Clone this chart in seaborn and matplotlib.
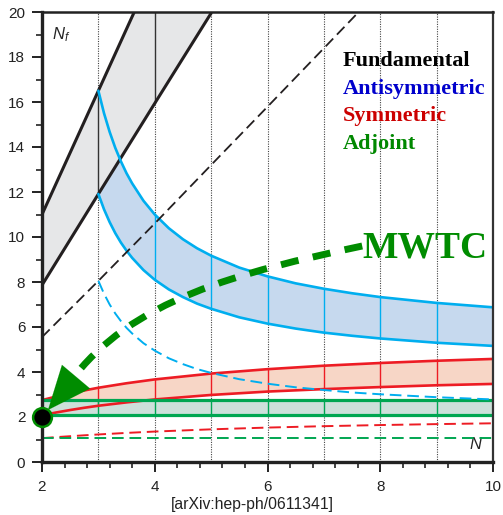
import numpy as np
import matplotlib
matplotlib.use("Agg")
import matplotlib.pyplot as plt
from matplotlib.path import Path
from matplotlib.patches import PathPatch
import seaborn as sns

# ---- data (N = number of colours, Nf = flavours) ----
fund_N = [2, 3, 4, 5]
fund_upper = [11.0, 16.5, 22.0, 27.5]
fund_lower = [7.86, 11.91, 15.94, 19.95]
fund_dash_N = [2, 3, 4, 5, 6, 7, 8]
fund_dash = [5.55, 8.05, 10.6, 13.2, 15.79, 18.39, 21.0]

anti_N = [3, 3.1, 3.2, 3.3, 3.4, 3.5, 3.6, 3.8, 4, 4.25, 4.5, 4.75, 5,
          5.5, 6, 6.5, 7, 7.5, 8, 9, 10]
anti_upper = [16.5, 15.5, 14.67, 13.96, 13.36, 12.83, 12.38, 11.61, 11.0, 10.39,
              9.9, 9.5, 9.17, 8.64, 8.25, 7.94, 7.7, 7.5, 7.33, 7.07, 6.875]
anti_lower = [11.91, 11.23, 10.66, 10.17, 9.75, 9.39, 9.07, 8.53, 8.1, 7.67,
              7.33, 7.04, 6.81, 6.43, 6.15, 5.93, 5.75, 5.61, 5.49, 5.3, 5.16]
anti_dash = [8.05, 7.48, 7.0, 6.6, 6.26, 5.96, 5.71, 5.28, 4.95, 4.61,
             4.35, 4.13, 3.96, 3.68, 3.48, 3.32, 3.2, 3.09, 3.01, 2.88, 2.78]

sym_N = [2, 2.25, 2.5, 2.75, 3, 3.5, 4, 5, 6, 7, 8, 9, 10]
sym_upper = [2.75, 2.91, 3.06, 3.18, 3.3, 3.5, 3.67, 3.93, 4.125, 4.28, 4.4, 4.5, 4.58]
sym_lower = [2.075, 2.2, 2.31, 2.41, 2.5, 2.65, 2.78, 2.98, 3.13, 3.24, 3.33, 3.41, 3.47]
sym_dash = [1.06, 1.105, 1.146, 1.186, 1.224, 1.293, 1.353, 1.452, 1.53, 1.592,
            1.642, 1.684, 1.72]

adj_N = [2, 3, 4, 5, 6, 7, 8, 9, 10]
adj_upper = [2.75] * 9
adj_lower = [2.075] * 9
adj_dash = [1.0625] * 9

legend_labels = ["Fundamental", "Antisymmetric", "Symmetric", "Adjoint"]
legend_colors = ["#000000", "#0000cc", "#cc0000", "#008800"]
grid_N = [3, 4, 5, 6, 7, 8, 9]
mwtc_point = (2, 2)

BLACK = "#231f20"
CYAN = "#00aeef"
RED = "#ed1c24"
GREEN = "#00a651"
ARROW_GREEN = "#008c00"

sns.set_theme(style="ticks")
plt.rcParams["font.family"] = ["Liberation Sans", "DejaVu Sans"]
plt.rcParams["mathtext.fontset"] = "custom"
plt.rcParams["mathtext.it"] = "Liberation Sans:italic"
plt.rcParams["mathtext.rm"] = "Liberation Sans"

fig = plt.figure(figsize=(5.03, 5.15), dpi=100)
ax = fig.add_axes([42 / 503, 53 / 515, 451 / 503, 450 / 515])
ax.set_facecolor("white")

# dotted guide lines
ax.vlines(grid_N, 0, 20, colors="#444444", linestyles=(0, (1, 1.2)), lw=0.8, zorder=1)

# bands
ax.fill_between(anti_N, anti_lower, anti_upper, color="#c6d9ee", lw=0, zorder=2)
ax.fill_between(fund_N, fund_lower, fund_upper, color="#e6e7e8", lw=0, zorder=2.5)
ax.fill_between(sym_N, sym_lower, sym_upper, color="#f7d6c6", lw=0, zorder=2)
ax.fill_between(adj_N, adj_lower, adj_upper, color="#cde0da", lw=0, zorder=2.5)


def inner_lines(xs, lo, hi, keep, color, z):
    for x, a, b in zip(xs, lo, hi):
        if x in keep:
            ax.vlines(x, a, b, colors=color, lw=1.0, zorder=z)


inner_lines(fund_N, fund_lower, fund_upper, [3, 4], "#333333", 3)
inner_lines(anti_N, anti_lower, anti_upper, [4, 5, 6, 7, 8, 9], CYAN, 3)
inner_lines(sym_N, sym_lower, sym_upper, [3, 4, 5, 6, 7, 8, 9], RED, 3)
inner_lines(adj_N, adj_lower, adj_upper, [3, 4, 5, 6, 7, 8, 9], GREEN, 3)

# solid boundaries
for xs, ys, c, w in [
    (fund_N, fund_upper, BLACK, 2.2), (fund_N, fund_lower, BLACK, 2.2),
    (anti_N, anti_upper, CYAN, 1.9), (anti_N, anti_lower, CYAN, 1.9),
    (sym_N, sym_upper, RED, 1.9), (sym_N, sym_lower, RED, 1.9),
    (adj_N, adj_upper, GREEN, 2.3), (adj_N, adj_lower, GREEN, 2.3),
]:
    sns.lineplot(x=xs, y=ys, color=c, lw=w, ax=ax, zorder=4)

# dashed lower limits
ax.plot(fund_dash_N, fund_dash, color=BLACK, lw=1.3, ls=(0, (6, 3)), zorder=4)
ax.plot(anti_N, anti_dash, color=CYAN, lw=1.4, ls=(0, (6, 3)), zorder=4)
ax.plot(sym_N, sym_dash, color=RED, lw=1.4, ls=(0, (6, 3)), zorder=4)
ax.plot(adj_N, adj_dash, color=GREEN, lw=1.4, ls=(0, (6, 3)), zorder=4)

# MWTC arrow: curved thick dashed shaft + solid head
shaft = Path([(7.68, 9.6), (5.51, 8.44), (3.56, 7.2), (2.5, 3.56)],
             [Path.MOVETO, Path.CURVE4, Path.CURVE4, Path.CURVE4])
ax.add_patch(PathPatch(shaft, fill=False, edgecolor=ARROW_GREEN, lw=5,
                       linestyle=(0, (2.6, 2.1)), capstyle="butt", zorder=5))
ax.annotate("", xy=(2.106, 2.31), xytext=(2.56, 3.66),
            arrowprops=dict(arrowstyle="-|>,head_length=2.6,head_width=1.1",
                            color=ARROW_GREEN, lw=0.1, shrinkA=0, shrinkB=0),
            zorder=5)
ax.plot(*mwtc_point, "o", ms=13.5, mfc="black", mec=ARROW_GREEN, mew=1.8,
        clip_on=False, zorder=10)
ax.text(7.69, 9.11, "MWTC", color=ARROW_GREEN, fontsize=27, fontweight="bold",
        family=["Liberation Serif", "DejaVu Serif"], zorder=6)

# legend text
for i, (lab, col) in enumerate(zip(legend_labels, legend_colors)):
    ax.text(7.34, 17.6 - i * 1.225, lab, color=col, fontsize=16, fontweight="bold",
            family=["Liberation Serif", "DejaVu Serif"], va="baseline", zorder=6)

ax.text(2.18, 19.0, r"$N_f$", fontsize=12, va="center", ha="left")
ax.text(9.83, 0.45, r"$N$", fontsize=12, va="bottom", ha="right")

ax.set_xlim(2, 10)
ax.set_ylim(0, 20)
ax.set_xticks([2, 4, 6, 8, 10])
ax.set_xticks(np.arange(2, 10.01, 0.4), minor=True)
ax.set_yticks(np.arange(0, 21, 2))
ax.set_yticks(np.arange(0, 21, 1), minor=True)
ax.tick_params(axis="both", which="major", length=7, width=1.4, labelsize=11,
               color="#222222", labelcolor="#222222")
ax.tick_params(axis="both", which="minor", length=4.5, width=1.2, color="#222222")
ax.tick_params(axis="x", pad=6)
ax.tick_params(axis="y", pad=5)
ax.set_xlabel("")
ax.set_ylabel("")
fig.text(252 / 503, 1 - 505 / 515, "[arXiv:hep-ph/0611341]", fontsize=11.3,
         ha="center", va="center", color="#222222")

for side, w, c in [("left", 2.4, "#222222"), ("bottom", 2.4, "#222222"),
                   ("top", 1.8, "#222222"), ("right", 1.6, "#333333")]:
    ax.spines[side].set_visible(True)
    ax.spines[side].set_linewidth(w)
    ax.spines[side].set_color(c)
    ax.spines[side].set_zorder(8)

fig.savefig("out.png", dpi=100)
